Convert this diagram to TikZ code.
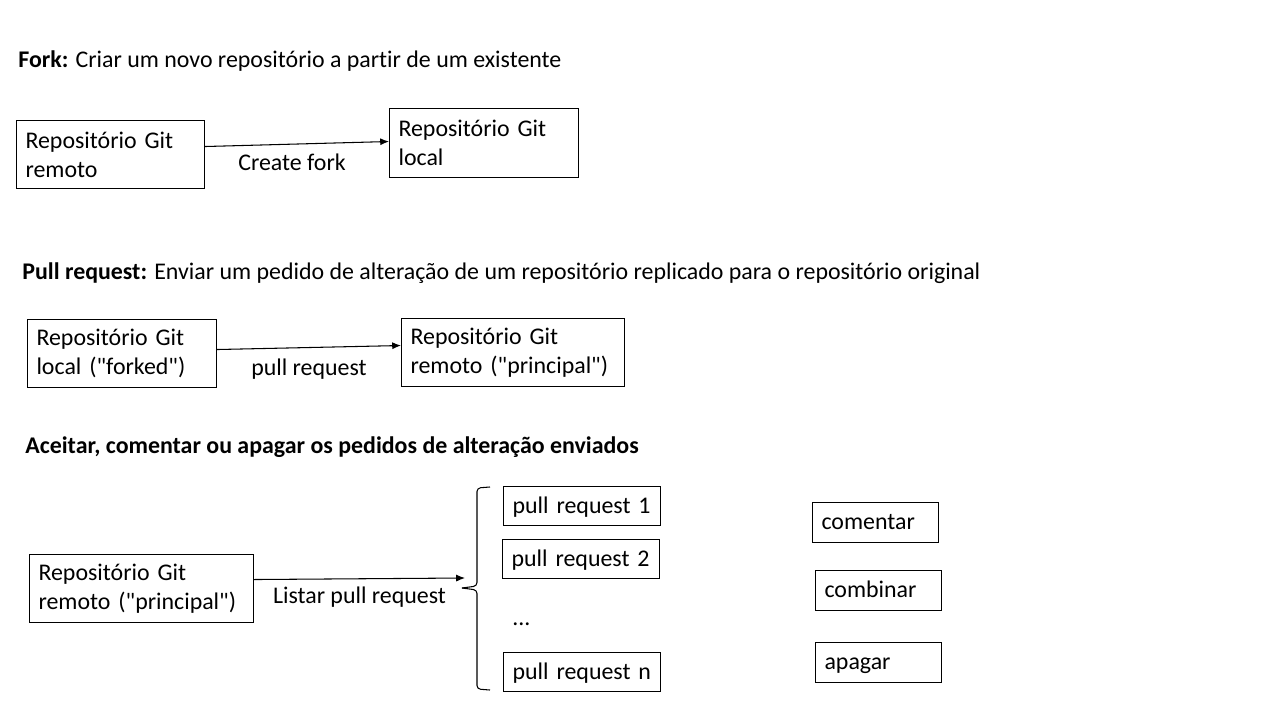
\documentclass[tikz,border=0pt]{standalone}
\usepackage{fontspec}
\setmainfont{Carlito}[Ligatures={TeXOff,NoCommon}]
\usepackage{tikz}
\usetikzlibrary{arrows.meta, positioning}
\newcommand\boxfont{\fontsize{13.6}{16.5}\selectfont}

\begin{document}
\begin{tikzpicture}[
    x=0.02cm, y=-0.02cm,
    box/.style={rectangle, draw=black, line width=0.6pt, anchor=north west,
                align=left, inner xsep=0.18cm, inner ysep=0.05cm, font=\boxfont},
    repo/.style={box, minimum height=1.36cm},
    prbox/.style={box, text width=2.78cm, minimum height=0.78cm,
                  text height=0.40cm, text depth=0.11cm},
    actbox/.style={box, text width=2.16cm, minimum height=0.8cm,
                   text height=0.40cm, text depth=0.11cm},
    arr/.style={-{Latex[length=5pt, width=4pt]}, line width=0.6pt},
    lbl/.style={font=\boxfont, inner sep=0pt},
    heading/.style={anchor=west, inner sep=0pt, font=\boxfont},
    bracket/.style={line width=0.6pt, rounded corners=2pt}
]
\useasboundingbox (0,0) rectangle (1280,720);

% Fork
\node[heading] (forkhead) at (18,61) {\textbf{Fork:} Criar um novo repositório a partir de um existente};
\node[repo, text width=3.40cm] (remoto) at (16,120) {Repositório Git\\remoto};
\node[repo, text width=3.42cm, minimum height=1.38cm] (local) at (389,108) {Repositório Git\\local};
\draw[arr] ([yshift=0.16cm]remoto.east) -- node[lbl, below=0.18cm, xshift=-0.1cm]{Create fork} ([yshift=0.03cm]local.west);

% Pull request
\node[heading] (pullhead) at (22,273) {\textbf{Pull request:} Enviar um pedido de alteração de um repositório replicado para o repositório original};
\node[repo, text width=3.42cm] (forked) at (27,319) {Repositório Git\\local ("forked")};
\node[repo, text width=4.10cm] (principal) at (401,318) {Repositório Git\\remoto ("principal")};
\draw[arr] ([yshift=0.08cm]forked.east) -- node[lbl, below=0.22cm]{pull request} ([yshift=0.14cm]principal.west);

% Aceitar / comentar / apagar
\node[heading] (acthead) at (25,447) {\textbf{Aceitar, comentar ou apagar os pedidos de alteração enviados}};
\node[repo, text width=4.12cm] (origem) at (29,554) {Repositório Git\\remoto ("principal")};
\coordinate (listtip) at (465,578);
\draw[arr] ([yshift=0.18cm]origem.east) -- node[lbl, below=0.16cm]{Listar pull request} (listtip);

% bracket round the list
\coordinate (braceTop) at (490,487);
\coordinate (braceTip) at (462,588);
\coordinate (braceBot) at (490,690);
\draw[bracket] (braceTop) -- (477,488) -- (477,586) -- (braceTip);
\draw[bracket] (braceTip) -- (477,590) -- (477,689) -- (braceBot);

\node[prbox] (pr1) at (503,486) {pull request 1};
\node[prbox] (pr2) at (502,539) {pull request 2};
\node[heading, anchor=base west] (dots) at (512,625) {...};
\node[prbox] (prn) at (503,652) {pull request n};

\node[actbox] (comentar) at (812,502) {comentar};
\node[actbox] (combinar) at (815,570) {combinar};
\node[actbox] (apagar)   at (815,642) {apagar};

\end{tikzpicture}
\end{document}
